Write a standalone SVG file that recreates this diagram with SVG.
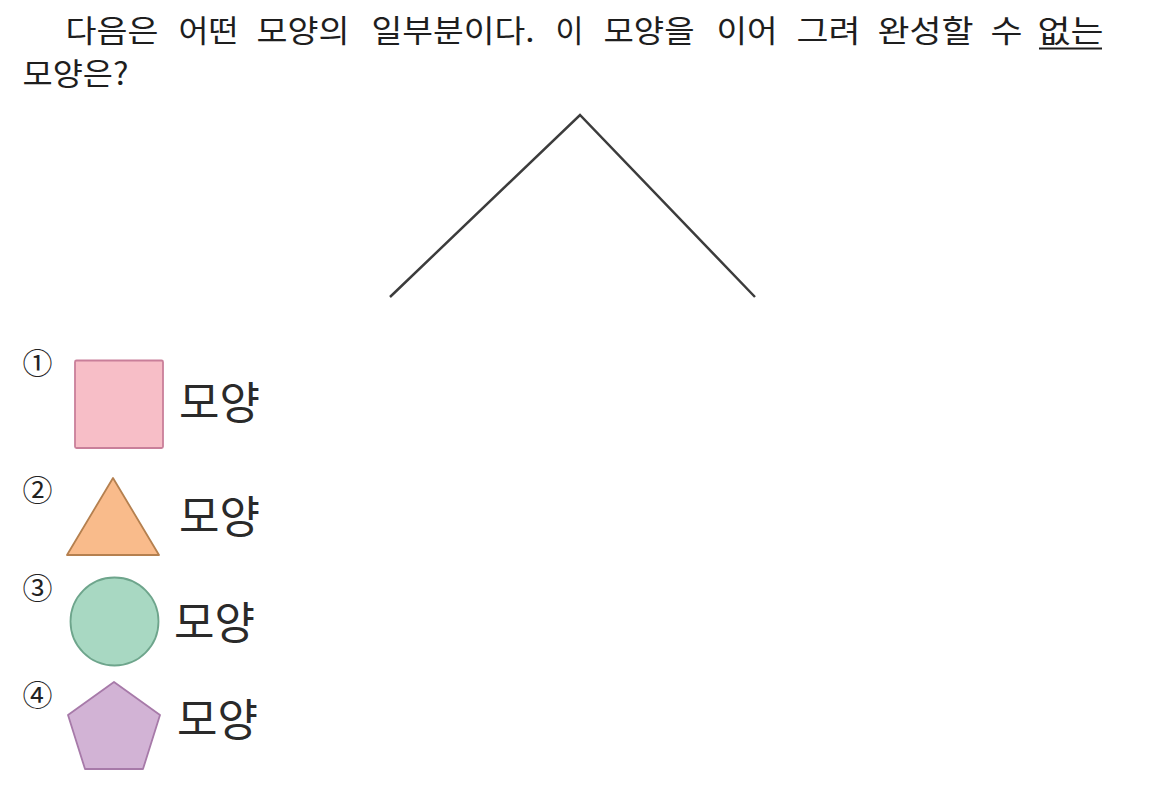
<svg xmlns="http://www.w3.org/2000/svg" width="1149" height="801" viewBox="0 0 1149 801">
<style>
.q{font-family:"Noto Sans CJK KR","Noto Sans",sans-serif;font-size:31px;fill:#1e1e1e}
.lbl{font-family:"Noto Sans CJK KR",sans-serif;font-size:44px;fill:#2a2a2a}
.num{font-family:"Noto Sans CJK KR",sans-serif;font-size:30px;fill:#222;text-anchor:middle}
</style>
<rect width="1149" height="801" fill="#ffffff"/>
<g id="question">
<text class="q" x="65.5" y="42" textLength="93" lengthAdjust="spacingAndGlyphs">다음은</text>
<text class="q" x="178.5" y="42" textLength="60" lengthAdjust="spacingAndGlyphs">어떤</text>
<text class="q" x="256.5" y="42" textLength="93" lengthAdjust="spacingAndGlyphs">모양의</text>
<text class="q" x="371.5" y="42" textLength="163" lengthAdjust="spacingAndGlyphs">일부분이다.</text>
<text class="q" x="555.5" y="42" textLength="28" lengthAdjust="spacingAndGlyphs">이</text>
<text class="q" x="603.5" y="42" textLength="91" lengthAdjust="spacingAndGlyphs">모양을</text>
<text class="q" x="716.5" y="42" textLength="61" lengthAdjust="spacingAndGlyphs">이어</text>
<text class="q" x="796.5" y="42" textLength="64" lengthAdjust="spacingAndGlyphs">그려</text>
<text class="q" x="877.5" y="42" textLength="96" lengthAdjust="spacingAndGlyphs">완성할</text>
<text class="q" x="990.5" y="42" textLength="32" lengthAdjust="spacingAndGlyphs">수</text>
<text class="q" x="1037.5" y="42" textLength="66" lengthAdjust="spacingAndGlyphs">없는</text>
<line x1="1039" y1="48.5" x2="1102" y2="48.5" stroke="#1e1e1e" stroke-width="2"/>
<text class="q" x="22.5" y="85" textLength="106" lengthAdjust="spacingAndGlyphs">모양은?</text>
</g>
<g id="partial-shape">
<polyline points="390,297 580,115 755,297" fill="none" stroke="#3c3c3c" stroke-width="2.5"/>
</g>
<g id="option1">
<text class="num" x="37.5" y="373.5">①</text>
<rect x="75" y="360.5" width="88" height="87.5" rx="1.5" fill="#f7bec7" stroke="#c97f9a" stroke-width="1.8"/>
<text class="lbl" x="179" y="419">모양</text>
</g>
<g id="option2">
<text class="num" x="37.5" y="501">②</text>
<polygon points="113,478 159,555 67,555" fill="#f9bb8b" stroke="#b5804f" stroke-width="1.8" stroke-linejoin="round"/>
<text class="lbl" x="179" y="533">모양</text>
</g>
<g id="option3">
<text class="num" x="37.5" y="599">③</text>
<circle cx="114.5" cy="621.5" r="44" fill="#a8d8c2" stroke="#6ea58c" stroke-width="1.8"/>
<text class="lbl" x="174" y="639">모양</text>
</g>
<g id="option4">
<text class="num" x="37.5" y="706">④</text>
<polygon points="114,682 160,715 143,769 85,769 68,715" fill="#d2b3d5" stroke="#a77aa9" stroke-width="1.8" stroke-linejoin="round"/>
<text class="lbl" x="177" y="736">모양</text>
</g>
</svg>
